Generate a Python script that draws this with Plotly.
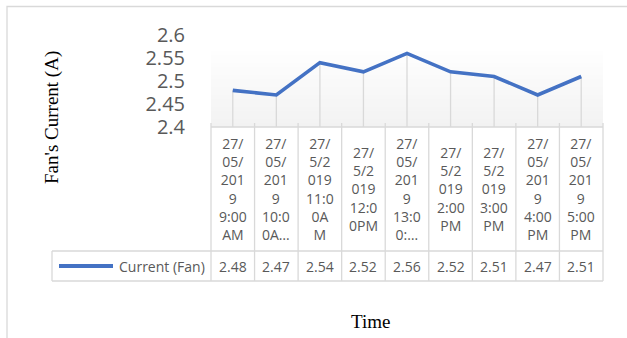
import plotly.graph_objects as go

# ---- data ----
categories = [
    "27/<br>05/<br>201<br>9<br>9:00<br>AM",
    "27/<br>05/<br>201<br>9<br>10:0<br>0A…",
    "27/<br>5/2<br>019<br>11:0<br>0A<br>M",
    "27/<br>5/2<br>019<br>12:0<br>0PM",
    "27/<br>05/<br>201<br>9<br>13:0<br>0:…",
    "27/<br>5/2<br>019<br>2:00<br>PM",
    "27/<br>5/2<br>019<br>3:00<br>PM",
    "27/<br>05/<br>201<br>9<br>4:00<br>PM",
    "27/<br>05/<br>201<br>9<br>5:00<br>PM",
]
current_fan = [2.48, 2.47, 2.54, 2.52, 2.56, 2.52, 2.51, 2.47, 2.51]
series_name = "Current (Fan)"
y_tick_values = [2.4, 2.45, 2.5, 2.55, 2.6]
y_tick_labels = ["2.4", "2.45", "2.5", "2.55", "2.6"]
y_title = "Fan's Current (A)"
x_title = "Time"

# ---- layout geometry (pixels) ----
W, H = 627, 338
PLOT_L, PLOT_R = 211, 603
PLOT_TOP, PLOT_BOT = 34.9, 127.3
GRAD_TOP = 47
TABLE_TOP, ROW_SPLIT, TABLE_BOT = 127, 251, 281
LEGEND_L = 52

GRID = "#d9d9d9"
TEXT = "#595959"
BLUE = "#4472c4"
TABLE_FONT = dict(family="Open Sans", size=14, color=TEXT)


def fx(px):
    return px / W


def fy(px):
    return 1 - px / H


n = len(current_fan)
xs = list(range(n))

fig = go.Figure()

# drop lines from each point to the category axis
drop_x, drop_y = [], []
for i, v in enumerate(current_fan):
    drop_x += [i, i, None]
    drop_y += [v, y_tick_values[0], None]
fig.add_trace(go.Scatter(x=drop_x, y=drop_y, mode="lines",
                         line=dict(color=GRID, width=1.3),
                         hoverinfo="skip", showlegend=False, cliponaxis=False))

# main series
fig.add_trace(go.Scatter(x=xs, y=current_fan, mode="lines", name=series_name,
                         line=dict(color=BLUE, width=3.6), showlegend=False))

shapes = []

# plot-area gradient (white at top to light grey at bottom)
bands = 20
for b in range(bands):
    y0 = GRAD_TOP + (TABLE_TOP - GRAD_TOP) * b / bands
    y1 = GRAD_TOP + (TABLE_TOP - GRAD_TOP) * (b + 1) / bands
    c = round(255 - 13 * (b + 0.5) / bands)
    shapes.append(dict(type="rect", xref="x domain", yref="paper",
                       x0=0, x1=1, y0=fy(y1), y1=fy(y0), layer="below",
                       line=dict(width=0), fillcolor=f"rgb({c},{c},{c})"))

# outer chart border
shapes.append(dict(type="rect", xref="paper", yref="paper",
                   x0=fx(7), x1=fx(W + 20), y0=fy(H + 20), y1=fy(6.5),
                   line=dict(color=GRID, width=1.3), fillcolor="rgba(0,0,0,0)"))


def hline(y, x0, x1):
    shapes.append(dict(type="line", xref="paper", yref="paper",
                       x0=fx(x0), x1=fx(x1), y0=fy(y), y1=fy(y),
                       line=dict(color=GRID, width=1.3)))


def vline(x, y0, y1):
    shapes.append(dict(type="line", xref="paper", yref="paper",
                       x0=fx(x), x1=fx(x), y0=fy(y0), y1=fy(y1),
                       line=dict(color=GRID, width=1.3)))


# data table grid
hline(TABLE_TOP, PLOT_L, PLOT_R)
hline(ROW_SPLIT, LEGEND_L, PLOT_R)
hline(TABLE_BOT, LEGEND_L, PLOT_R)
vline(LEGEND_L, ROW_SPLIT, TABLE_BOT)
col_w = (PLOT_R - PLOT_L) / n
for k in range(n + 1):
    vline(PLOT_L + k * col_w, TABLE_TOP - 4, TABLE_BOT)

# legend key in the table
row_mid = (ROW_SPLIT + TABLE_BOT) / 2
shapes.append(dict(type="line", xref="paper", yref="paper",
                   x0=fx(59), x1=fx(113), y0=fy(row_mid), y1=fy(row_mid),
                   line=dict(color=BLUE, width=4)))

annotations = []
head_mid = (TABLE_TOP + ROW_SPLIT) / 2
for i, (cat, v) in enumerate(zip(categories, current_fan)):
    annotations.append(dict(x=i, xref="x", y=fy(head_mid), yref="paper",
                            text=cat, showarrow=False, font=TABLE_FONT,
                            xanchor="center", yanchor="middle"))
    annotations.append(dict(x=i, xref="x", y=fy(row_mid), yref="paper",
                            text=f"{v:.2f}", showarrow=False, font=TABLE_FONT,
                            xanchor="center", yanchor="middle"))
annotations.append(dict(x=fx(117), xref="paper", y=fy(row_mid), yref="paper",
                        text=series_name, showarrow=False, font=TABLE_FONT,
                        xanchor="left", yanchor="middle"))

# axis titles
annotations.append(dict(x=fx(52), xref="paper", y=fy(118), yref="paper",
                        text=y_title, textangle=-90, showarrow=False,
                        font=dict(family="Liberation Serif", size=19, color="black"),
                        xanchor="center", yanchor="middle"))
annotations.append(dict(x=fx(370), xref="paper", y=fy(321), yref="paper",
                        text=x_title, showarrow=False,
                        font=dict(family="Liberation Serif", size=19, color="black"),
                        xanchor="center", yanchor="middle"))

fig.update_layout(
    template="none",
    width=W, height=H,
    margin=dict(l=0, r=0, t=0, b=0, pad=0, autoexpand=False),
    paper_bgcolor="white", plot_bgcolor="rgba(0,0,0,0)",
    showlegend=False,
    shapes=shapes, annotations=annotations,
    xaxis=dict(domain=[fx(PLOT_L), fx(PLOT_R)], range=[-0.5, n - 0.5],
               automargin=False,
               showgrid=False, zeroline=False, showline=False,
               showticklabels=False, ticks=""),
    yaxis=dict(domain=[fy(PLOT_BOT), fy(PLOT_TOP)],
               range=[y_tick_values[0], y_tick_values[-1]],
               automargin=False,
               tickvals=y_tick_values, ticktext=y_tick_labels,
               ticks="outside", ticklen=21, tickcolor="rgba(0,0,0,0)",
               showgrid=False, zeroline=False, showline=False,
               tickfont=dict(family="Open Sans", size=20, color=TEXT)),
)

fig.write_html("out.html")
